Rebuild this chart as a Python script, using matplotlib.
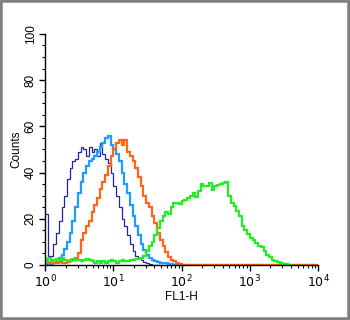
import numpy as np
import matplotlib
matplotlib.use("Agg")
import matplotlib.pyplot as plt
from matplotlib.patches import Rectangle
from matplotlib.ticker import LogLocator, MultipleLocator, NullFormatter, FixedLocator

plt.rcParams['font.family'] = ['Liberation Sans', 'DejaVu Sans']

# histogram channels: 100 bins of 0.04 decade across 10^0 .. 10^4
n_bins = 100
decade_step = 0.04

navy = [22, 4, 4, 9, 14, 19, 25, 30, 37, 42, 45, 46, 49, 51, 50, 47, 51, 49, 50, 47,
        53, 48, 46, 44, 40, 34, 30, 25, 20, 17, 13, 9, 6, 4, 3, 2, 1.3, 0.8, 0.3] + [0] * 61
cyan = [0.3, 0.3, 0.5, 0.8, 1.3, 3, 4.5, 7, 10, 14, 19, 25, 31, 36, 40, 43, 45, 46, 47, 49,
        51, 53, 55, 56, 52, 50, 48, 45, 40, 35, 31, 26, 21, 17, 13, 9, 6.5, 4.5, 3, 2,
        1.5, 1.3, 1, 0.8, 0.8, 0.5, 0.3] + [0] * 53
orange = [1.5, 1, 1, 0.8, 1, 1.2, 1, 1, 1.3, 1.5, 2, 3, 5, 11, 14, 17, 19, 23, 26, 29,
          33, 36, 39, 43, 47, 50, 53, 54, 52, 54, 49, 47, 45, 42, 38, 34, 30, 27, 25, 21,
          18, 14, 11, 8, 5.6, 3.5, 2, 1.5, 1, 0.5] + [0] * 50
green = [2, 3, 1.5, 2, 2.5, 2, 3, 2, 1.5, 2, 2.5, 2, 2, 1.5, 2, 2.5, 2, 1.5, 1, 1.5,
         1, 1.5, 1, 1.5, 2, 1.5, 1, 1.5, 2, 1.5, 1.5, 2, 2, 2.5, 2.5, 3, 4, 6, 8, 10,
         13, 16, 19, 21, 23, 22, 25, 27, 27, 26.5, 27.5, 28, 29, 30, 31, 29.5, 32, 35, 34, 34,
         35.5, 32.5, 34, 34.5, 35, 35.5, 36, 30, 27, 25.5, 23.5, 21, 17, 15, 13.5, 11.5, 11, 9.5, 8, 7.6,
         6, 4.5, 3.5, 2.2, 1.5, 1.1, 0.8, 0.5, 0.3, 0]

y_ticks = [0, 20, 40, 60, 80, 100]
x_ticks = [1, 10, 100, 1000, 10000]
x_labels = ['$10^{0}$', '$10^{1}$', '$10^{2}$', '$10^{3}$', '$10^{4}$']

edges = 10 ** (np.arange(n_bins + 1) * decade_step)

fig = plt.figure(figsize=(3.5, 3.2), dpi=100)
ax = fig.add_axes([0.129, 0.172, 0.78, 0.722])

ax.stairs(navy, edges, color='#2222a8', linewidth=0.9, baseline=None)
ax.stairs(cyan, edges, color='#1e9cff', linewidth=1.6, baseline=None)
ax.stairs(orange, edges, color='#ff661a', linewidth=1.6, baseline=None)
ax.stairs(green, edges[:len(green) + 1], color='#22ee22', linewidth=1.6, baseline=None)

ax.set_xscale('log')
ax.set_xlim(1, 10000)
ax.set_ylim(0, 100)

for s in ['top', 'right']:
    ax.spines[s].set_visible(False)
for s in ['left', 'bottom']:
    ax.spines[s].set_linewidth(1.0)

ax.set_yticks(y_ticks)
ax.set_yticklabels([str(v) for v in y_ticks], rotation=90, va='center', fontsize=8.5)
ax.yaxis.set_minor_locator(MultipleLocator(5))
ax.xaxis.set_major_locator(FixedLocator(x_ticks))
ax.set_xticklabels(x_labels, fontsize=9)
ax.xaxis.set_minor_locator(LogLocator(base=10, subs=np.arange(2, 10), numticks=20))
ax.xaxis.set_minor_formatter(NullFormatter())
ax.tick_params(axis='both', which='major', direction='out', length=4, width=1, pad=2)
ax.tick_params(axis='both', which='minor', direction='out', length=2.5, width=0.8)

ax.set_ylabel('Counts', fontsize=8.5, labelpad=2)
ax.set_xlabel('FL1-H', fontsize=8.5, labelpad=1)

fig.patches.append(Rectangle((0, 0), 1, 1, transform=fig.transFigure, fill=False,
                             edgecolor='#808080', linewidth=4, zorder=10))

fig.savefig('out.png', dpi=100)
